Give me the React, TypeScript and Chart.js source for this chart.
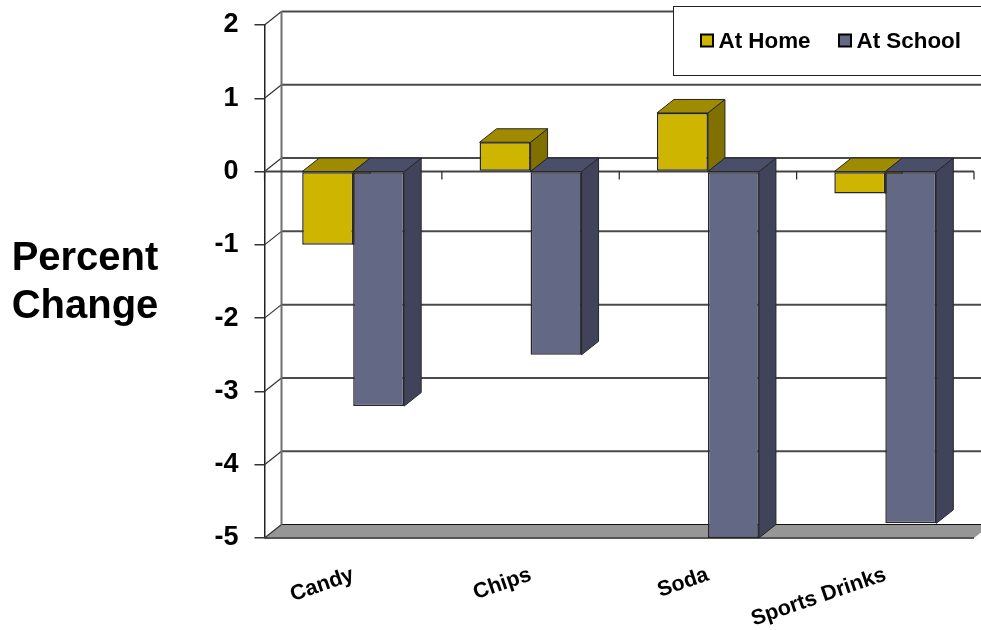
import React, { useEffect, useRef } from "react";
import { Chart, registerables } from "chart.js";

Chart.register(...registerables);

const categories = ["Candy", "Chips", "Soda", "Sports Drinks"];
const atHome = [-1.0, 0.4, 0.8, -0.3];
const atSchool = [-3.2, -2.5, -5.0, -4.8];
const seriesNames = ["At Home", "At School"];
const axisTitleLines = ["Percent", "Change"];

const FONT = '"Liberation Sans", Arial, sans-serif';
const DEPTH_X = 17;
const DEPTH_Y = 13.5;
const FILLS = ["#CDB500", "#636985"];
const TOPS = ["#9E8B00", "#4B4E68"];
const SIDES = ["#7F7000", "#41435A"];
const EDGE = "#26262c";

function poly(ctx: CanvasRenderingContext2D, pts: number[][], fill: string, stroke?: string, lw = 1) {
  ctx.beginPath();
  pts.forEach(([x, y], i) => (i ? ctx.lineTo(x, y) : ctx.moveTo(x, y)));
  ctx.closePath();
  ctx.fillStyle = fill;
  ctx.fill();
  if (stroke) {
    ctx.strokeStyle = stroke;
    ctx.lineWidth = lw;
    ctx.stroke();
  }
}

function seg(ctx: CanvasRenderingContext2D, x1: number, y1: number, x2: number, y2: number, color: string, lw: number) {
  ctx.beginPath();
  ctx.moveTo(x1, y1);
  ctx.lineTo(x2, y2);
  ctx.strokeStyle = color;
  ctx.lineWidth = lw;
  ctx.stroke();
}

// Walls, floor and the depth faces of the bars sit behind the library's front faces.
const depthBackdrop = {
  id: "depthBackdrop",
  beforeDatasetsDraw(chart: any) {
    const { ctx, chartArea: a, scales } = chart;
    const y = scales.y;
    const canvasRight = chart.width;
    ctx.save();

    // floor
    const floorFront = y.getPixelForValue(-5);
    poly(
      ctx,
      [
        [a.left, floorFront],
        [a.left + DEPTH_X, floorFront - DEPTH_Y],
        [a.right + DEPTH_X, floorFront - DEPTH_Y],
        [a.right, floorFront],
      ],
      "#969696"
    );
    seg(ctx, a.left, floorFront, a.right, floorFront, "#555555", 2);

    // back-wall grid and its returns on the left wall
    for (let v = 2; v >= -5; v--) {
      const py = y.getPixelForValue(v);
      const isFloor = v === -5;
      seg(ctx, a.left + DEPTH_X, py - DEPTH_Y, canvasRight, py - DEPTH_Y, isFloor ? "#111111" : "#4a4a4a", isFloor ? 1.2 : 2);
      seg(ctx, a.left, py, a.left + DEPTH_X, py - DEPTH_Y, "#333333", 1.2);
    }
    seg(ctx, a.left + DEPTH_X, y.getPixelForValue(2) - DEPTH_Y, a.left + DEPTH_X, floorFront - DEPTH_Y, "#707070", 2);

    // category axis running along the zero level
    const zero = y.getPixelForValue(0);
    seg(ctx, a.left, zero, a.right, zero, "#444444", 2);
    const step = (a.right - a.left) / categories.length;
    for (let i = 0; i <= categories.length; i++) {
      const tx = a.left + i * step;
      seg(ctx, tx, zero, tx, zero + 8, "#222222", 1.2);
    }

    // depth faces of each bar
    chart.data.datasets.forEach((_: any, di: number) => {
      chart.getDatasetMeta(di).data.forEach((bar: any) => {
        const half = bar.width / 2;
        const l = bar.x - half;
        const r = bar.x + half;
        const top = Math.min(bar.y, zero);
        const bottom = Math.max(bar.y, zero);
        poly(
          ctx,
          [
            [r, top],
            [r + DEPTH_X, top - DEPTH_Y],
            [r + DEPTH_X, bottom - DEPTH_Y],
            [r, bottom],
          ],
          SIDES[di],
          EDGE
        );
        poly(
          ctx,
          [
            [l, top],
            [l + DEPTH_X, top - DEPTH_Y],
            [r + DEPTH_X, top - DEPTH_Y],
            [r, top],
          ],
          TOPS[di],
          EDGE
        );
      });
    });
    ctx.restore();
  },
  afterDraw(chart: any) {
    const { ctx } = chart;
    ctx.save();

    // horizontal axis title
    ctx.fillStyle = "#000000";
    ctx.font = `bold 40px ${FONT}`;
    ctx.textAlign = "center";
    ctx.textBaseline = "alphabetic";
    axisTitleLines.forEach((line, i) => ctx.fillText(line, 85, 270 + i * 48));

    // legend panel, open towards the right edge
    ctx.fillStyle = "#ffffff";
    ctx.fillRect(673.5, 6.5, chart.width, 69);
    ctx.strokeStyle = "#222222";
    ctx.lineWidth = 1;
    ctx.strokeRect(673.5, 6.5, chart.width, 69);

    const swatchX = [701, 839];
    chart.data.datasets.forEach((ds: any, i: number) => {
      ctx.fillStyle = ds.backgroundColor;
      ctx.fillRect(swatchX[i], 34.5, 12, 12);
      ctx.strokeStyle = "#000000";
      ctx.lineWidth = 2;
      ctx.strokeRect(swatchX[i], 34.5, 12, 12);
      ctx.fillStyle = "#000000";
      ctx.font = `bold 22.4px ${FONT}`;
      ctx.textAlign = "left";
      ctx.textBaseline = "alphabetic";
      ctx.fillText(ds.label, swatchX[i] + 17.5, 48);
    });
    ctx.restore();
  },
};

export default function App() {
  const ref = useRef<HTMLCanvasElement>(null);

  useEffect(() => {
    document.body.style.margin = "0";
    document.body.style.background = "#ffffff";
    const chart = new Chart(ref.current as HTMLCanvasElement, {
      type: "bar",
      data: {
        labels: categories,
        datasets: [
          { label: seriesNames[0], data: atHome, backgroundColor: FILLS[0], borderColor: EDGE, borderWidth: 1.5, borderSkipped: false },
          { label: seriesNames[1], data: atSchool, backgroundColor: FILLS[1], borderColor: EDGE, borderWidth: 1.5, borderSkipped: false },
        ],
      },
      options: {
        responsive: false,
        animation: false,
        layout: { padding: { top: 25, right: 7, bottom: 0, left: 0 } },
        plugins: { legend: { display: false }, title: { display: false }, tooltip: { enabled: false } },
        datasets: { bar: { categoryPercentage: 0.575, barPercentage: 1 } },
        scales: {
          x: {
            offset: true,
            grid: { display: false },
            border: { display: false },
            afterFit(s: any) {
              s.height = 92;
              s.paddingLeft = 0;
              s.paddingRight = 0;
            },
            ticks: {
              autoSkip: false,
              minRotation: 19,
              maxRotation: 19,
              padding: 16,
              color: "#000000",
              font: { family: FONT, weight: "bold", size: 21.5 },
            },
          },
          y: {
            min: -5,
            max: 2,
            afterFit(s: any) {
              s.width = 264.5;
              s.paddingTop = 0;
              s.paddingBottom = 0;
            },
            grid: { drawOnChartArea: false, drawTicks: true, tickLength: 10, color: "#333333", lineWidth: 1.5 },
            border: { display: true, color: "#222222", width: 1.5 },
            ticks: {
              stepSize: 1,
              padding: 16,
              color: "#000000",
              font: { family: FONT, weight: "bold", size: 27 },
            },
          },
        },
      } as any,
      plugins: [depthBackdrop],
    });
    return () => chart.destroy();
  }, []);

  return <canvas ref={ref} width={981} height={630} style={{ display: "block" }} />;
}
